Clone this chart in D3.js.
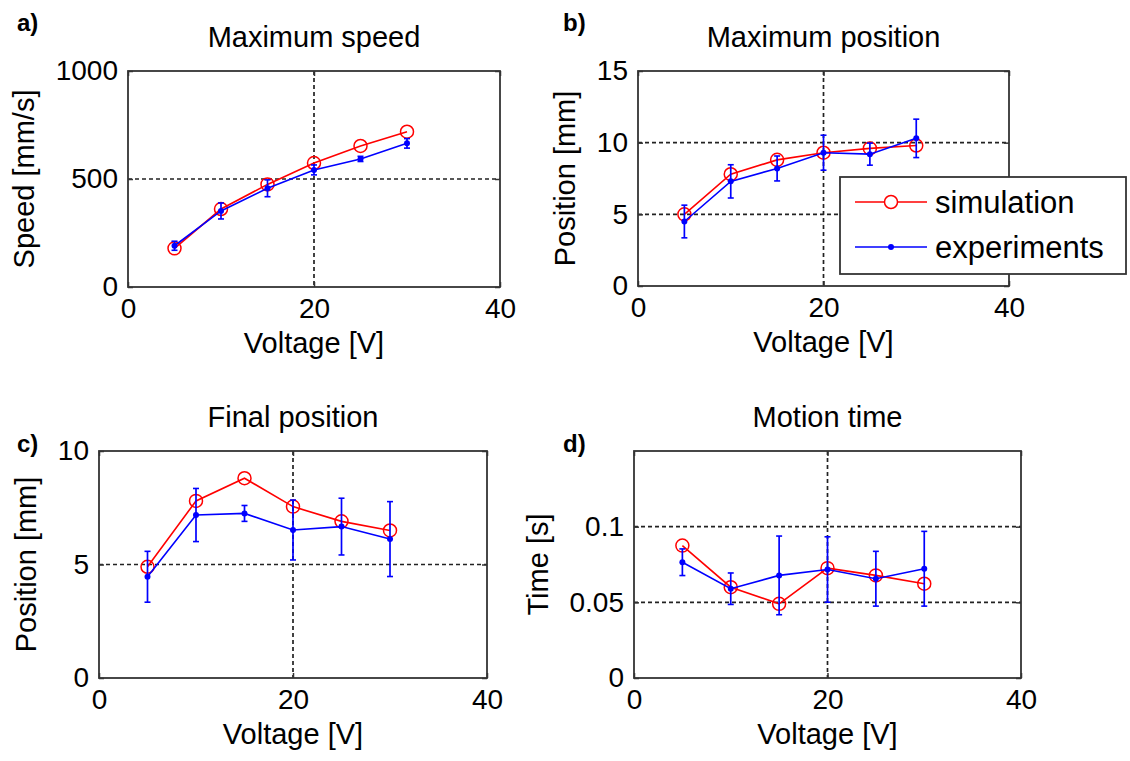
<!DOCTYPE html>
<html>
<head>
<meta charset="utf-8">
<script src="https://cdn.jsdelivr.net/npm/d3@7/dist/d3.min.js"></script>
<style>
  html, body { margin: 0; padding: 0; background: #fff; }
  svg { display: block; font-family: "Liberation Sans", Arial, sans-serif; }
</style>
</head>
<body>
<svg id="chart" width="1130" height="761"></svg>
<script>
// ---------- data ----------
const voltage = [5, 10, 15, 20, 25, 30];
const xTicks = [0, 20, 40];

const speedSim = [179, 361, 475, 574, 653, 719];
const speedExp = [191, 352, 457, 542, 593, 665];
const speedErr = [21, 37, 39, 23, 12, 22];
const speedTicks = [0, 500, 1000];

const posMaxSim = [5.0, 7.8, 8.8, 9.3, 9.6, 9.8];
const posMaxExp = [4.5, 7.3, 8.2, 9.3, 9.2, 10.3];
const posMaxErr = [1.14, 1.16, 0.87, 1.22, 0.77, 1.34];
const posMaxTicks = [0, 5, 10, 15];

const posFinalSim = [4.9, 7.8, 8.8, 7.55, 6.9, 6.5];
const posFinalExp = [4.46, 7.18, 7.25, 6.52, 6.67, 6.12];
const posFinalErr = [1.12, 1.17, 0.35, 1.32, 1.25, 1.65];
const posFinalTicks = [0, 5, 10];

const timeSim = [0.0875, 0.060, 0.049, 0.0726, 0.0678, 0.0623];
const timeExp = [0.0765, 0.059, 0.0678, 0.0717, 0.0656, 0.0722];
const timeErr = [0.0088, 0.0104, 0.026, 0.0216, 0.0181, 0.0247];
const timeTicks = [0, 0.05, 0.1];

const seriesNames = ["simulation", "experiments"];
const xLabel = "Voltage [V]";

// ---------- layout ----------
const panels = [
  { tag: "a)", title: "Maximum speed", ylabel: "Speed [mm/s]", box: [128, 71, 500, 287],
    yDomain: [0, 1000], yTicks: speedTicks, sim: speedSim, exp: speedExp, err: speedErr, tagPos: [17, 31] },
  { tag: "b)", title: "Maximum position", ylabel: "Position [mm]", box: [638, 71, 1009, 286],
    yDomain: [0, 15], yTicks: posMaxTicks, sim: posMaxSim, exp: posMaxExp, err: posMaxErr, tagPos: [563, 31], legend: true },
  { tag: "c)", title: "Final position", ylabel: "Position [mm]", box: [99, 451, 487, 678],
    yDomain: [0, 10], yTicks: posFinalTicks, sim: posFinalSim, exp: posFinalExp, err: posFinalErr, tagPos: [17, 452] },
  { tag: "d)", title: "Motion time", ylabel: "Time [s]", box: [634, 451, 1021, 678],
    yDomain: [0, 0.15], yTicks: timeTicks, sim: timeSim, exp: timeExp, err: timeErr, tagPos: [563, 452] }
];

const RED = "#ff0000", BLUE = "#0000ff", FRAME = "#333333";
const svg = d3.select("#chart");
svg.append("rect").attr("width", 1130).attr("height", 761).attr("fill", "#fff");

panels.forEach(p => {
  const [x0, y0, x1, y1] = p.box;
  const x = d3.scaleLinear().domain([0, 40]).range([x0, x1]);
  const y = d3.scaleLinear().domain(p.yDomain).range([y1, y0]);
  const g = svg.append("g");

  // grid (interior ticks only)
  g.selectAll(".vgrid").data(xTicks.filter(t => t > 0 && t < 40)).enter().append("line")
    .attr("x1", d => x(d)).attr("x2", d => x(d)).attr("y1", y0).attr("y2", y1)
    .attr("stroke", "#222").attr("stroke-width", 1.7).attr("stroke-dasharray", "4,3");
  g.selectAll(".hgrid").data(p.yTicks.filter(t => t > p.yDomain[0] && t < p.yDomain[1])).enter().append("line")
    .attr("x1", x0).attr("x2", x1).attr("y1", d => y(d)).attr("y2", d => y(d))
    .attr("stroke", "#222").attr("stroke-width", 1.7).attr("stroke-dasharray", "4,3");

  // axes
  const fs = 28;
  const bottom = g.append("g").attr("transform", `translate(0,${y1})`)
    .call(d3.axisBottom(x).tickValues(xTicks).tickSizeInner(-5).tickSizeOuter(0).tickPadding(11).tickFormat(d => String(d)));
  const top = g.append("g").attr("transform", `translate(0,${y0})`)
    .call(d3.axisTop(x).tickValues(xTicks).tickSizeInner(-5).tickSizeOuter(0).tickFormat(""));
  const left = g.append("g").attr("transform", `translate(${x0},0)`)
    .call(d3.axisLeft(y).tickValues(p.yTicks).tickSizeInner(-5).tickSizeOuter(0).tickPadding(10).tickFormat(d => String(d)));
  const right = g.append("g").attr("transform", `translate(${x1},0)`)
    .call(d3.axisRight(y).tickValues(p.yTicks).tickSizeInner(-5).tickSizeOuter(0).tickFormat(""));
  [bottom, top, left, right].forEach(a => {
    a.select(".domain").remove();
    a.selectAll(".tick line").attr("stroke", FRAME).attr("stroke-width", 1.5);
    a.selectAll("text").attr("font-size", fs).attr("fill", "#000").attr("font-family", "Liberation Sans, Arial, sans-serif");
  });

  // frame
  g.append("rect").attr("x", x0).attr("y", y0).attr("width", x1 - x0).attr("height", y1 - y0)
    .attr("fill", "none").attr("stroke", FRAME).attr("stroke-width", 1.8);

  // simulation line
  const line = d3.line().x((d, i) => x(voltage[i])).y(d => y(d));
  g.append("path").datum(p.sim).attr("d", line).attr("fill", "none").attr("stroke", RED).attr("stroke-width", 1.6);
  g.selectAll(".simpt").data(p.sim).enter().append("circle")
    .attr("cx", (d, i) => x(voltage[i])).attr("cy", d => y(d)).attr("r", 6.5)
    .attr("fill", "none").attr("stroke", RED).attr("stroke-width", 1.5);

  // experiments with error bars
  const eg = g.append("g");
  p.exp.forEach((v, i) => {
    const cx = x(voltage[i]);
    const ylo = y(v - p.err[i]), yhi = y(v + p.err[i]);
    eg.append("line").attr("x1", cx).attr("x2", cx).attr("y1", ylo).attr("y2", yhi).attr("stroke", BLUE).attr("stroke-width", 1.7);
    eg.append("line").attr("x1", cx - 3).attr("x2", cx + 3).attr("y1", ylo).attr("y2", ylo).attr("stroke", BLUE).attr("stroke-width", 1.6);
    eg.append("line").attr("x1", cx - 3).attr("x2", cx + 3).attr("y1", yhi).attr("y2", yhi).attr("stroke", BLUE).attr("stroke-width", 1.6);
  });
  g.append("path").datum(p.exp).attr("d", line).attr("fill", "none").attr("stroke", BLUE).attr("stroke-width", 1.6);
  g.selectAll(".exppt").data(p.exp).enter().append("circle")
    .attr("cx", (d, i) => x(voltage[i])).attr("cy", d => y(d)).attr("r", 3).attr("fill", BLUE);

  // title
  g.append("text").attr("x", (x0 + x1) / 2).attr("y", y0 - 24).attr("text-anchor", "middle")
    .attr("font-size", 29).attr("fill", "#000").text(p.title);
  // x label
  g.append("text").attr("x", (x0 + x1) / 2).attr("y", y1 + 66).attr("text-anchor", "middle")
    .attr("font-size", 29).attr("fill", "#000").text(xLabel);
  // y label positioned left of the tick labels
  let minX = Infinity;
  left.selectAll("text").each(function () {
    const b = this.getBBox();
    const ctm = this.getCTM();
    minX = Math.min(minX, b.x + ctm.e);
  });
  const lx = minX - 22;
  g.append("text").attr("transform", `translate(${lx},${(y0 + y1) / 2}) rotate(-90)`)
    .attr("text-anchor", "middle").attr("font-size", 29).attr("fill", "#000").text(p.ylabel);
  // panel tag
  g.append("text").attr("x", p.tagPos[0]).attr("y", p.tagPos[1]).attr("font-size", 24)
    .attr("font-weight", "bold").attr("fill", "#000").text(p.tag);

  if (p.legend) {
    const lg = svg.append("g");
    lg.append("rect").attr("x", 840).attr("y", 177).attr("width", 286).attr("height", 97)
      .attr("fill", "#fff").attr("stroke", FRAME).attr("stroke-width", 1.8);
    const rows = [202, 247];
    seriesNames.forEach((name, i) => {
      const ry = rows[i];
      const col = i === 0 ? RED : BLUE;
      lg.append("line").attr("x1", 855).attr("x2", 927).attr("y1", ry).attr("y2", ry).attr("stroke", col).attr("stroke-width", 1.6);
      if (i === 0) {
        lg.append("circle").attr("cx", 891).attr("cy", ry).attr("r", 6.5).attr("fill", "#fff").attr("stroke", col).attr("stroke-width", 1.5);
      } else {
        lg.append("circle").attr("cx", 891).attr("cy", ry).attr("r", 3).attr("fill", col);
      }
      lg.append("text").attr("x", 935).attr("y", ry + 11).attr("font-size", 31).attr("fill", "#000").text(name);
    });
  }
});
</script>
</body>
</html>
